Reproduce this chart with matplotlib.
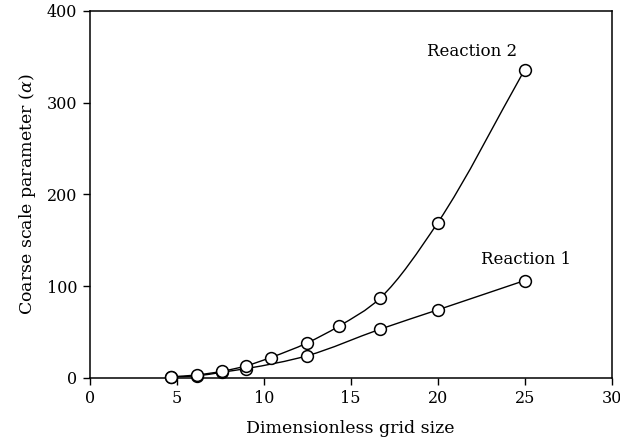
import matplotlib
matplotlib.use("Agg")
import matplotlib.pyplot as plt
from matplotlib.path import Path
from matplotlib.patches import PathPatch
import numpy as np

plt.rcParams['font.family'] = ['DejaVu Serif']
plt.rcParams['mathtext.fontset'] = 'dejavuserif'

# values
grid_r2 = [4.65, 6.15, 7.6, 9.0, 10.4, 12.5, 14.3, 16.7, 20.0, 25.0]
alpha_r2 = [1, 3, 7, 13, 22, 38, 56, 87, 169, 336]
grid_r1 = [4.65, 6.15, 7.6, 9.0, 12.5, 16.7, 20.0, 25.0]
alpha_r1 = [1, 2, 6, 10, 24, 53, 74, 106]

x_ticks = [0, 5, 10, 15, 20, 25, 30]
y_ticks = [0, 100, 200, 300, 400]


def smooth_path(xs, ys):
    # hermite curve through the points (slopes from neighbouring secants),
    # drawn as cubic bezier segments
    xs = np.asarray(xs, float)
    ys = np.asarray(ys, float)
    h = np.diff(xs)
    d = np.diff(ys) / h
    m = np.empty(len(xs))
    m[0] = d[0]
    m[-1] = d[-1]
    m[1:-1] = (d[:-1] * h[1:] + d[1:] * h[:-1]) / (h[:-1] + h[1:])
    verts = [(xs[0], ys[0])]
    codes = [Path.MOVETO]
    for i in range(len(xs) - 1):
        verts.append((xs[i] + h[i] / 3, ys[i] + m[i] * h[i] / 3))
        verts.append((xs[i + 1] - h[i] / 3, ys[i + 1] - m[i + 1] * h[i] / 3))
        verts.append((xs[i + 1], ys[i + 1]))
        codes += [Path.CURVE4] * 3
    return Path(verts, codes)


fig = plt.figure(figsize=(6.2, 4.47), dpi=100)
ax = fig.add_axes([0.1447, 0.155, 0.8419, 0.8204])

for xs, ys in [(grid_r1, alpha_r1), (grid_r2, alpha_r2)]:
    ax.add_patch(PathPatch(smooth_path(xs, ys), facecolor='none',
                           edgecolor='black', lw=1.0, zorder=2))
    ax.plot(xs, ys, 'o', ms=8.5, mfc='white', mec='black', mew=1.1,
            zorder=3, clip_on=False)

ax.text(21.95, 356, 'Reaction 2', ha='center', va='center', fontsize=12)
ax.text(25.1, 129, 'Reaction 1', ha='center', va='center', fontsize=12)

ax.set_xlim(0, 30)
ax.set_ylim(0, 400)
ax.set_xticks(x_ticks)
ax.set_yticks(y_ticks)
ax.tick_params(direction='out', length=5, width=1, labelsize=11.5,
               top=False, right=False, pad=4)
for sp in ax.spines.values():
    sp.set_linewidth(1.1)

ax.set_xlabel('Dimensionless grid size', fontsize=12.5, labelpad=9)
ax.set_ylabel(r'Coarse scale parameter ($\alpha$)', fontsize=12.5, labelpad=6)

fig.savefig('out.png', dpi=100)
